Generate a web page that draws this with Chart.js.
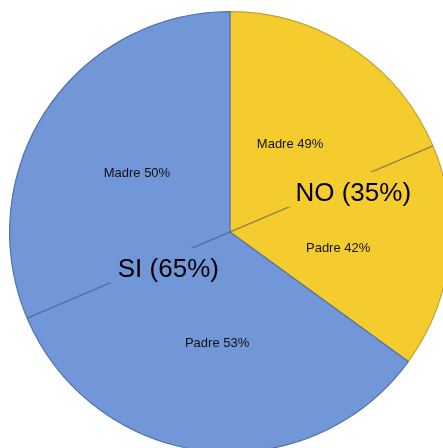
<!DOCTYPE html>
<html>
<head>
<meta charset="utf-8">
<script src="https://cdn.jsdelivr.net/npm/chart.js@4"></script>
<style>
  html, body { margin: 0; padding: 0; background: #ffffff; overflow: hidden; width: 443px; height: 448px; }
  #wrap { position: absolute; left: 9px; top: 11px; width: 442px; height: 442px; }
</style>
</head>
<body>
<div id="wrap"><canvas id="c"></canvas></div>
<script>
// ---- data ----
const categories = ["NO", "SI"];
const values = [35, 65];
const mainLabels = ["NO (35%)", "SI (65%)"];
const subLabels = ["Madre 49%", "Padre 42%", "Madre 50%", "Padre 53%"];

// ---- styles ----
const fills = ["#F4CC2D", "#7197D8"];
const borders = ["#C4A22A", "#5571AC"];
const FONT = '"Liberation Sans", Arial, sans-serif';

// label placement relative to pie center (fraction of radius, canvas angle in degrees)
const mainPos = [ { r: 0.588, a: -18 }, { r: 0.324, a: 149.7 } ];
const subPos = [ { r: 0.48, a: -55.4 }, { r: 0.496, a: 8.4 }, { r: 0.498, a: -148 }, { r: 0.51, a: 96.6 } ];
const splitAngle = -23; // diameter dividing Madre / Padre

const overlay = {
  id: 'overlay',
  afterDatasetsDraw(chart) {
    const ctx = chart.ctx;
    const arc = chart.getDatasetMeta(0).data[0];
    const cx = arc.x, cy = arc.y, R = arc.outerRadius;
    const rad = d => d * Math.PI / 180;
    ctx.save();
    // diameter line
    ctx.strokeStyle = 'rgba(70,80,110,0.6)';
    ctx.lineWidth = 1.3;
    ctx.beginPath();
    ctx.moveTo(cx + R * Math.cos(rad(splitAngle)), cy + R * Math.sin(rad(splitAngle)));
    ctx.lineTo(cx - R * Math.cos(rad(splitAngle)), cy - R * Math.sin(rad(splitAngle)));
    ctx.stroke();

    // main labels with background box
    ctx.font = '26px ' + FONT;
    ctx.textAlign = 'center';
    ctx.textBaseline = 'alphabetic';
    mainLabels.forEach((t, i) => {
      const p = mainPos[i];
      const x = cx + R * p.r * Math.cos(rad(p.a));
      const y = cy + R * p.r * Math.sin(rad(p.a));
      const base = y + 9;
      const w = ctx.measureText(t).width;
      ctx.fillStyle = fills[i];
      ctx.fillRect(x - w / 2 - 8, base - 29, w + 16, 35);
      ctx.fillStyle = '#000000';
      ctx.fillText(t, x, base);
    });

    // sub labels
    ctx.font = '13px ' + FONT;
    ctx.textBaseline = 'middle';
    ctx.fillStyle = '#111111';
    subLabels.forEach((t, i) => {
      const p = subPos[i];
      const x = cx + R * p.r * Math.cos(rad(p.a));
      const y = cy + R * p.r * Math.sin(rad(p.a));
      ctx.fillText(t, x, y);
    });
    ctx.restore();
  }
};

new Chart(document.getElementById('c'), {
  type: 'pie',
  data: {
    labels: categories,
    datasets: [{
      data: values,
      backgroundColor: fills,
      borderColor: borders,
      borderWidth: 1.2,
      borderAlign: 'center'
    }]
  },
  options: {
    responsive: true,
    maintainAspectRatio: false,
    animation: false,
    layout: { padding: 0 },
    plugins: { legend: { display: false }, tooltip: { enabled: false } }
  },
  plugins: [overlay]
});
</script>
</body>
</html>
